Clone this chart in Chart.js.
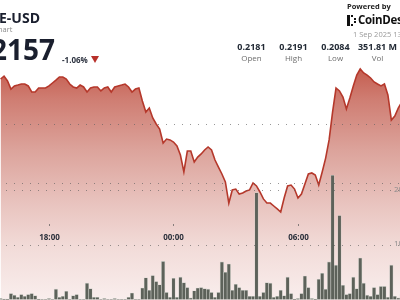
<!DOCTYPE html>
<html>
<head>
<meta charset="utf-8">
<script src="https://cdn.jsdelivr.net/npm/chart.js@4"></script>
<style>
  html,body{margin:0;padding:0;background:#fff;}
  #wrap{position:relative;width:400px;height:300px;overflow:hidden;background:#fff;font-family:"Open Sans",sans-serif;}
  #cv{position:absolute;left:0;top:0;width:400px;height:300px;}
  .t{position:absolute;line-height:1;white-space:nowrap;}
  .c{width:40px;text-align:center;}
</style>
</head>
<body>
<div id="wrap">
  <div id="cv"><canvas id="c"></canvas></div>
  <div class="t" style="left:-1px;top:11px;font-size:14px;font-weight:700;color:#1a1f2e;">E-USD</div>
  <div class="t" style="left:-2px;top:25.5px;font-size:7.5px;color:#8a8a8a;">hart</div>
  <div class="t" style="left:-9px;top:35px;font-size:28px;font-weight:700;color:#1a1f2e;">2157</div>
  <div class="t" style="left:62px;top:55.6px;font-size:8px;font-weight:700;color:#2d3340;">-1.06%</div>
  <div style="position:absolute;left:91px;top:56px;width:0;height:0;border-left:4px solid transparent;border-right:4px solid transparent;border-top:7px solid #b8302a;"></div>

  <div class="t" style="left:347px;top:2.7px;font-size:7.5px;font-weight:700;color:#222;">Powered by</div>
  <div style="position:absolute;left:347px;top:15px;width:3px;height:11px;background:#111;"></div>
  <div style="position:absolute;left:351px;top:15px;width:2px;height:2px;background:#111;"></div>
  <div style="position:absolute;left:351px;top:24px;width:2px;height:2px;background:#111;"></div>
  <div style="position:absolute;left:354px;top:18px;width:2px;height:2px;background:#111;"></div>
  <div style="position:absolute;left:354px;top:21px;width:2px;height:2px;background:#111;"></div>
  <div class="t" style="left:358px;top:14px;font-size:11.5px;letter-spacing:-0.3px;font-weight:700;color:#111;">CoinDes</div>
  <div class="t" style="left:353px;top:30.7px;font-size:7.5px;color:#9a9a9a;">1 Sep 2025 13</div>

  <div class="t c" style="left:231.5px;top:41.9px;font-size:9px;font-weight:700;color:#222a35;">0.2181</div>
  <div class="t c" style="left:231.5px;top:53.6px;font-size:8px;color:#6e6e6e;">Open</div>
  <div class="t c" style="left:273.5px;top:41.9px;font-size:9px;font-weight:700;color:#222a35;">0.2191</div>
  <div class="t c" style="left:273.5px;top:53.6px;font-size:8px;color:#6e6e6e;">High</div>
  <div class="t c" style="left:315.5px;top:41.9px;font-size:9px;font-weight:700;color:#222a35;">0.2084</div>
  <div class="t c" style="left:315.5px;top:53.6px;font-size:8px;color:#6e6e6e;">Low</div>
  <div class="t c" style="left:352.5px;top:41.9px;width:50px;font-size:9px;font-weight:700;color:#222a35;">351.81 M</div>
  <div class="t c" style="left:357.5px;top:53.6px;font-size:8px;color:#6e6e6e;">Vol</div>
</div>
<script>
// ---- data ----
const times = [
  "15:40","15:50",
  "16:00","16:10","16:20","16:30","16:40","16:50",
  "17:00","17:10","17:20","17:30","17:40","17:50",
  "18:00","18:10","18:20","18:30","18:40","18:50",
  "19:00","19:10","19:20","19:30","19:40","19:50",
  "20:00","20:10","20:20","20:30","20:40","20:50",
  "21:00","21:10","21:20","21:30","21:40","21:50",
  "22:00","22:10","22:20","22:30","22:40","22:50",
  "23:00","23:10","23:20","23:30","23:40","23:50",
  "00:00","00:10","00:20","00:30","00:40","00:50",
  "01:00","01:10","01:20","01:30","01:40","01:50",
  "02:00","02:10","02:20","02:30","02:40","02:50",
  "03:00","03:10","03:20","03:30","03:40","03:50",
  "04:00","04:10","04:20","04:30","04:40","04:50",
  "05:00","05:10","05:20","05:30","05:40","05:50",
  "06:00","06:10","06:20","06:30","06:40","06:50",
  "07:00","07:10","07:20","07:30","07:40","07:50",
  "08:00","08:10","08:20","08:30","08:40","08:50",
  "09:00","09:10","09:20","09:30","09:40","09:50",
  "10:00","10:10","10:20","10:30","10:40","10:50",
  "11:00"
];
const prices = [
  0.21805,0.21825,
  0.21792,0.21737,0.21758,0.21764,0.21771,0.21771,
  0.21758,0.21717,0.21717,0.21744,0.21744,0.21744,
  0.21758,0.21778,0.21798,0.21819,0.21819,0.21805,
  0.21771,0.21751,0.21744,0.21764,0.21751,0.21717,
  0.21744,0.21751,0.21751,0.21724,0.21744,0.21751,
  0.21717,0.21751,0.21758,0.21764,0.21771,0.21751,
  0.21717,0.21737,0.21744,0.21656,0.21581,0.21608,
  0.21541,0.21500,0.21466,0.21371,0.21398,0.21392,
  0.21378,0.21351,0.21290,0.21175,0.21317,0.21317,
  0.21242,0.21276,0.21297,0.21324,0.21344,0.21324,
  0.21256,0.21208,0.21161,0.21107,0.20964,0.21053,
  0.21059,0.21025,0.21032,0.21046,0.21053,0.21100,
  0.21080,0.21039,0.20992,0.20964,0.20964,0.20944,
  0.20924,0.20903,0.20998,0.21080,0.21086,0.21059,
  0.20998,0.21025,0.21093,0.21161,0.21168,0.21154,
  0.21086,0.21175,0.21269,0.21392,0.21581,0.21744,
  0.21724,0.21683,0.21602,0.21676,0.21758,0.21832,
  0.21873,0.21846,0.21832,0.21812,0.21785,0.21771,
  0.21758,0.21771,0.21697,0.21527,0.21554,0.21608,
  0.21649
];
const volumes = [
  0.2,0.1,
  0.1,1.1,0.8,0.4,0.9,0.6,
  0.9,1.1,0.7,0.1,0.05,0.05,
  0.2,0.05,1.9,0.4,0.6,1.5,
  0.05,0.7,0.9,0.05,0.05,3.0,
  2.0,0.4,0.4,0.05,0.2,0.05,
  0.05,0.2,0.05,0.05,0.05,0.4,
  1.2,0.05,0.05,2.1,4.0,1.7,
  4.4,3.3,2.7,7.0,1.3,0.4,
  3.9,0.4,4.1,3.1,2.2,0.3,
  1.6,2.1,2.2,2.0,1.9,1.3,
  0.4,1.3,6.9,5.0,6.5,1.7,
  2.8,2.2,1.7,1.7,0.6,0.6,
  19.6,0.6,1.3,3.1,3.0,0.4,
  0.6,1.7,0.7,4.1,1.1,0.1,
  0.2,1.1,4.3,2.2,0.2,0.1,
  3.7,4.8,1.9,6.9,22.8,6.3,
  15.4,2.6,0.9,1.1,4.1,2.0,
  7.6,3.0,0.8,0.6,2.2,0.9,
  2.4,2.4,0.4,6.3,0.6,0.3,
  1.0
];
const axisLabels = ["18:00","00:00","06:00"];
const priceGrid = [0.211, 0.215];
const volGrid = [10, 20];
const volUnit = "M";

function toMin(s){
  const [h,m] = s.split(":").map(Number);
  let v = h*60 + m;
  if (h < 12) v += 1440;
  return v - 1080;
}

const overlay = {
  id: 'overlay',
  afterDraw(chart){
    const {ctx, scales} = chart;
    const x = scales.x, v = scales.v;
    ctx.save();
    ctx.font = 'bold 8px "Open Sans"';
    ctx.textAlign = 'center';
    ctx.textBaseline = 'middle';
    axisLabels.forEach(l => {
      const px = Math.round(x.getPixelForValue(toMin(l)));
      ctx.fillStyle = 'rgba(90,90,90,0.7)';
      ctx.fillRect(px, 224, 1, 2);
      ctx.fillStyle = '#2b303b';
      ctx.fillText(l, px + 0.5, 238);
    });
    ctx.font = '8px "Open Sans"';
    ctx.fillStyle = '#8c8c8c';
    ctx.textAlign = 'left';
    volGrid.forEach(val => {
      ctx.fillText(val + volUnit, 394, v.getPixelForValue(val) - 1);
    });
    ctx.restore();
  }
};

function fillGrad(c){
  const ch = c.chart, a = ch.chartArea;
  if (!a) return 'rgba(215,140,130,0.8)';
  const g = ch.ctx.createLinearGradient(0, a.top, 0, a.bottom);
  g.addColorStop(0.0, '#bd4536');
  g.addColorStop(0.22, '#c45a4c');
  g.addColorStop(0.33, '#cf7d72');
  g.addColorStop(0.5, '#dca39b');
  g.addColorStop(0.67, '#e8c2bd');
  g.addColorStop(0.83, '#f2dcd9');
  g.addColorStop(1, '#f9eeed');
  return g;
}

const gridStyle = {color:'rgba(95,95,95,0.65)', lineWidth:1, drawTicks:false, z:1};
const borderStyle = {display:false, dash:[1,7], dashOffset:2};

new Chart(document.getElementById('c'), {
  type: 'bar',
  data: {
    datasets: [
      {
        type: 'bar',
        data: times.map((t,i) => ({x: toMin(t), y: volumes[i]})),
        yAxisID: 'v',
        backgroundColor: '#5d625a',
        borderColor: 'rgba(205,207,201,0.9)',
        borderWidth: 0.6,
        barPercentage: 1,
        categoryPercentage: 1,
        order: 0
      },
      {
        type: 'line',
        data: times.map((t,i) => ({x: toMin(t), y: prices[i]})),
        yAxisID: 'p',
        borderColor: '#b5382b',
        borderWidth: 1.6,
        pointRadius: 0,
        tension: 0,
        fill: 'start',
        backgroundColor: fillGrad,
        order: 1
      }
    ]
  },
  options: {
    responsive: true,
    maintainAspectRatio: false,
    animation: false,
    layout: {padding: 0},
    plugins: {legend: {display:false}, tooltip: {enabled:false}},
    scales: {
      x: {type:'linear', min:-141.7, max:1015, offset:false, bounds:'data', display:false},
      p: {
        type:'linear', position:'left', min:0.203068, max:0.223407,
        afterFit: s => { s.width = 0; },
        afterBuildTicks: s => { s.ticks = priceGrid.map(v => ({value:v})); },
        ticks: {display:false},
        grid: gridStyle,
        border: borderStyle
      },
      v: {
        type:'linear', position:'right', min:-0.09, max:54.95,
        afterFit: s => { s.width = 0; },
        afterBuildTicks: s => { s.ticks = volGrid.map(v => ({value:v})); },
        ticks: {display:false},
        grid: gridStyle,
        border: borderStyle
      }
    }
  },
  plugins: [overlay]
});
</script>
</body>
</html>
